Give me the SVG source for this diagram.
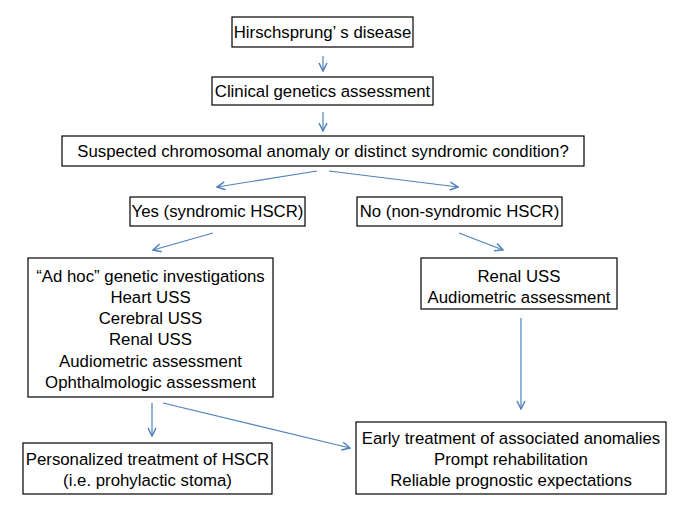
<svg xmlns="http://www.w3.org/2000/svg" width="680" height="510" viewBox="0 0 680 510">
<style>
.box{fill:#fff;stroke:#000;stroke-width:1.2}
.t{font-family:"Liberation Sans","DejaVu Sans",sans-serif;font-size:16.8px;fill:#000;text-anchor:middle}
.c{stroke:#4f81bd;stroke-width:1.2;fill:none;marker-end:url(#ah)}
</style>
<defs>
<marker id="ah" viewBox="0 0 10 10" refX="9" refY="5" markerWidth="10" markerHeight="10" markerUnits="userSpaceOnUse" orient="auto">
<path d="M1,1 L9,5 L1,9" fill="none" stroke="#4f81bd" stroke-width="1.5"/>
</marker>
</defs>
<rect width="680" height="510" fill="#fff"/>
<g id="connectors">
<line class="c" x1="323" y1="56" x2="323" y2="71"/>
<line class="c" x1="323" y1="112" x2="323" y2="131"/>
<line class="c" x1="317" y1="171" x2="217" y2="187"/>
<line class="c" x1="329" y1="171" x2="458" y2="187"/>
<line class="c" x1="213" y1="233" x2="153" y2="250"/>
<line class="c" x1="459" y1="233" x2="503" y2="250"/>
<line class="c" x1="521" y1="318" x2="521" y2="409"/>
<line class="c" x1="152" y1="403" x2="152" y2="436"/>
<line class="c" x1="163" y1="403" x2="350" y2="448"/>
</g>
<g id="n1"><rect class="box" x="232" y="17" width="181" height="30"/><text class="t" x="322.5" y="38">Hirschsprung’ s disease</text></g>
<g id="n2"><rect class="box" x="212" y="77" width="221" height="28"/><text class="t" x="322.5" y="97">Clinical genetics assessment</text></g>
<g id="n3"><rect class="box" x="62" y="136" width="522" height="30"/><text class="t" x="323" y="157">Suspected chromosomal anomaly or distinct syndromic condition?</text></g>
<g id="n4"><rect class="box" x="130" y="197" width="175" height="29"/><text class="t" x="217.5" y="217">Yes (syndromic HSCR)</text></g>
<g id="n5"><rect class="box" x="357" y="197" width="205" height="29"/><text class="t" x="459.5" y="217">No (non-syndromic HSCR)</text></g>
<g id="n6"><rect class="box" x="28" y="258" width="245" height="139"/>
<text class="t" x="150.5" y="282">“Ad hoc” genetic investigations</text>
<text class="t" x="150.5" y="303">Heart USS</text>
<text class="t" x="150.5" y="324">Cerebral USS</text>
<text class="t" x="150.5" y="345">Renal USS</text>
<text class="t" x="150.5" y="367">Audiometric assessment</text>
<text class="t" x="150.5" y="388">Ophthalmologic assessment</text></g>
<g id="n7"><rect class="box" x="421" y="258" width="196" height="51"/>
<text class="t" x="519" y="282">Renal USS</text>
<text class="t" x="519" y="303">Audiometric assessment</text></g>
<g id="n8"><rect class="box" x="23" y="443" width="249" height="51"/>
<text class="t" x="147.5" y="465">Personalized treatment of HSCR</text>
<text class="t" x="147.5" y="486">(i.e. prohylactic stoma)</text></g>
<g id="n9"><rect class="box" x="356" y="422" width="310" height="72"/>
<text class="t" x="511" y="444">Early treatment of associated anomalies</text>
<text class="t" x="511" y="465">Prompt rehabilitation</text>
<text class="t" x="511" y="486">Reliable prognostic expectations</text></g>
</svg>
